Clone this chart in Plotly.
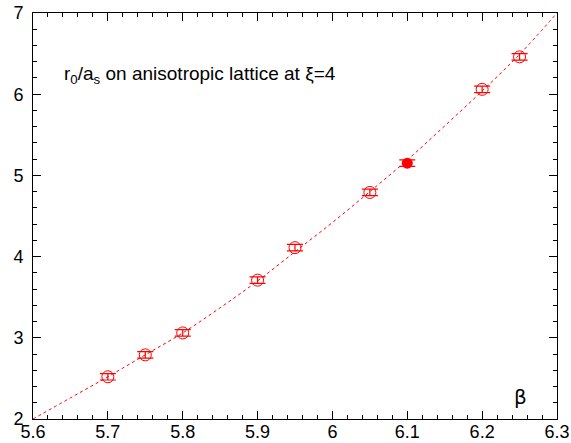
import plotly.graph_objects as go

beta = [5.7, 5.75, 5.8, 5.9, 5.95, 6.05, 6.2, 6.25]
r0 = [2.52, 2.79, 3.06, 3.71, 4.11, 4.79, 6.06, 6.46]
err = [0.04, 0.04, 0.04, 0.04, 0.04, 0.04, 0.04, 0.04]
beta_f = [6.1]
r0_f = [5.15]
err_f = [0.04]

fit_x = [5.6, 5.65, 5.7, 5.75, 5.8, 5.85, 5.9, 5.95, 6.0, 6.05, 6.1, 6.15, 6.2, 6.25, 6.3]
fit_y = [2.0, 2.26, 2.52, 2.79, 3.06, 3.37, 3.70, 4.06, 4.42, 4.80, 5.19, 5.61, 6.04, 6.49, 7.0]

red = "#ff0000"
fig = go.Figure()
fig.add_trace(go.Scatter(x=fit_x, y=fit_y, mode="lines", line=dict(color=red, width=1, dash="dot", shape="spline"), hoverinfo="skip"))
fig.add_trace(go.Scatter(x=beta, y=r0, mode="markers",
                         marker=dict(symbol="circle-open", size=12, color=red, line=dict(width=1)),
                         error_y=dict(type="data", array=err, color=red, thickness=1.2, width=8)))
fig.add_trace(go.Scatter(x=beta_f, y=r0_f, mode="markers",
                         marker=dict(symbol="circle", size=11, color=red),
                         error_y=dict(type="data", array=err_f, color=red, thickness=1.2, width=8)))

fig.add_annotation(xref="paper", yref="paper", x=(62 - 33) / 524, y=(419 - 75) / 406, xanchor="left", yanchor="middle", showarrow=False,
                   text="r<sub>0</sub>/a<sub>s</sub> on anisotropic lattice at ξ=4",
                   font=dict(family="Liberation Sans, Arial", size=19, color="black"))
fig.add_annotation(xref="paper", yref="paper", x=(520 - 33) / 524, y=(419 - 397) / 406, xanchor="center", yanchor="middle", showarrow=False,
                   text="β", font=dict(family="DejaVu Sans", size=20, color="black"))

axis_common = dict(showgrid=False, zeroline=False, showline=True, linecolor="black", linewidth=1,
                   mirror="allticks", ticks="inside", ticklen=8, tickcolor="black", automargin=False,
                   tickfont=dict(family="Liberation Sans, Arial", size=18, color="black"))
fig.update_xaxes(range=[5.6, 6.3], tickvals=[5.6, 5.7, 5.8, 5.9, 6.0, 6.1, 6.2, 6.3],
                 ticktext=["5.6", "5.7", "5.8", "5.9", "6", "6.1", "6.2", "6.3"], ticklabelstandoff=-4,
                 minor=dict(dtick=0.02, ticks="inside", ticklen=4, tickcolor="black"), **axis_common)
fig.update_yaxes(range=[2, 7], tickvals=[2, 3, 4, 5, 6, 7], ticklabelstandoff=5,
                 minor=dict(dtick=0.2, ticks="inside", ticklen=4, tickcolor="black"), **axis_common)
fig.update_layout(width=571, height=443, margin=dict(l=33, r=14, t=13, b=24),
                  plot_bgcolor="white", paper_bgcolor="white", showlegend=False)
fig.write_html("out.html", config={"displayModeBar": False},
               post_script="document.body.style.margin='0';")
